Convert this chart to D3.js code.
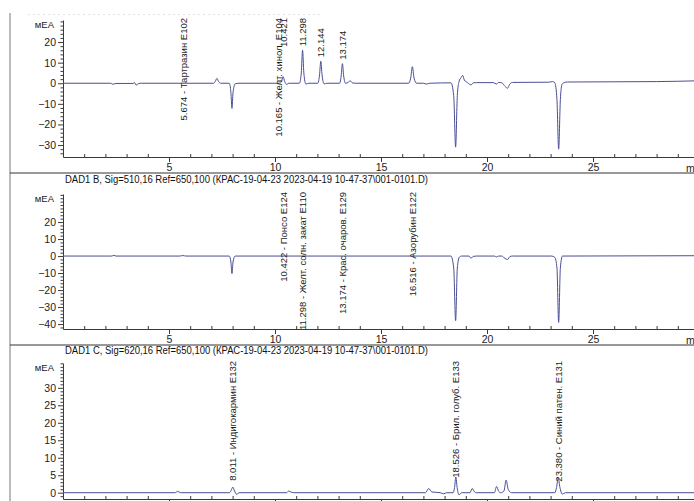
<!DOCTYPE html>
<html>
<head>
<meta charset="utf-8">
<script src="https://cdn.jsdelivr.net/npm/d3@7"></script>
<style>
  html, body { margin: 0; padding: 0; background: #fff; }
  svg { display: block; }
</style>
</head>
<body>
<script>
// Chromatogram traces, [time in min, signal in mAU]
const sigA = [
  [0, 0], [2.25, 0], [2.35, -0.5], [2.5, -0.1], [3.3, -0.1], [3.38, 0.3], [3.45, -0.9], [3.55, -0.2], [3.7, 0],
  [7.1, 0], [7.18, 0.8], [7.26, 2.4], [7.34, 0.8], [7.45, 0],
  [7.84, 0], [7.92, -4.5], [7.97, -12.2], [8.02, -4.5], [8.12, -0.3], [8.3, 0],
  [10.2, 0], [10.3, 0.6], [10.38, 3.2], [10.46, 0.8], [10.55, -0.6], [10.65, 0],
  [11.15, 0], [11.24, 5], [11.3, 16], [11.36, 5], [11.46, -0.4], [11.6, 0],
  [12.02, 0], [12.1, 4], [12.16, 10.7], [12.22, 4], [12.32, -0.3], [12.45, 0],
  [13.05, 0], [13.12, 3.5], [13.18, 9.5], [13.24, 3.5], [13.33, 0], [13.45, 0.4], [13.55, 1.2], [13.65, 0.2], [13.8, 0],
  [16.3, 0], [16.4, 2.5], [16.48, 8], [16.56, 2.5], [16.68, 0], [17.0, 0], [17.15, -0.4], [17.3, 0],
  [18.3, 0.2], [18.43, -6], [18.52, -31], [18.6, -6], [18.68, 0.8], [18.78, 2.8], [18.85, 3.8], [18.93, 1.6], [19.08, 0.3],
  [19.25, -0.8], [19.35, 0.2], [19.5, 0.3],
  [20.3, 0.3], [20.45, -0.4], [20.55, 0.4], [20.7, 0.2], [20.85, -1.5], [20.97, -2.4], [21.07, -0.5], [21.2, 0.4],
  [22.9, 0.5], [23.1, 0.8], [23.2, 0.2], [23.3, -8], [23.38, -32], [23.46, -8], [23.54, -0.5], [23.64, 0.3], [23.8, 0.6],
  [26, 0.7], [28, 0.8], [30, 1.2]
];
const sigB = [
  [0, 0], [2.3, 0], [2.4, 0.4], [2.5, 0], [5.5, 0], [5.65, 0.3], [5.8, 0],
  [7.84, 0], [7.92, -3.5], [7.97, -10.3], [8.02, -3.5], [8.12, 0],
  [18.3, 0], [18.43, -7], [18.52, -38], [18.6, -7], [18.7, -0.6], [18.8, 0],
  [19.15, 0], [19.25, -1.3], [19.35, -0.2], [19.5, 0],
  [20.35, 0], [20.45, -0.5], [20.55, 0], [20.7, 0], [20.85, -1.4], [20.97, -2], [21.08, -0.3], [21.2, 0],
  [23.05, 0], [23.2, -0.8], [23.3, -7], [23.38, -39], [23.46, -7], [23.56, 0], [30, 0.2]
];
const sigC = [
  [0, 0], [5.3, 0], [5.4, 0.4], [5.55, 0],
  [7.85, 0], [7.93, 0.6], [8.01, 1.6], [8.09, 0.5], [8.2, -0.5], [8.3, 0],
  [10.55, 0], [10.65, 0.5], [10.75, 0.2], [10.9, 0],
  [17.1, 0], [17.25, 1.2], [17.4, 0.2], [17.8, 0], [17.95, -0.3], [18.1, 0],
  [18.4, 0], [18.47, 1.5], [18.53, 4.5], [18.59, 1.5], [18.68, -0.6], [18.8, 0],
  [19.2, 0], [19.3, 1.2], [19.4, 0.3], [19.5, 0],
  [20.35, 0], [20.45, 1.8], [20.55, 0.4], [20.65, 0], [20.8, 0.5], [20.9, 3.6], [21.0, 1], [21.15, 0],
  [23.2, 0], [23.28, 1.5], [23.36, 4.2], [23.44, 1.5], [23.55, -0.4], [23.7, 0], [30, 0]
];

// Peak annotations: retention time and printed text
const labelsA = [
  { t: 5.674, text: "5.674 - Тартразин E102", named: true },
  { t: 10.165, text: "10.165 - Желт. хинол. E104", named: true },
  { t: 10.421, text: "10.421" },
  { t: 11.298, text: "11.298" },
  { t: 12.144, text: "12.144" },
  { t: 13.174, text: "13.174" }
];
const labelsB = [
  { t: 10.422, text: "10.422 - Понсо E124", named: true },
  { t: 11.298, text: "11.298 - Желт. солн. закат E110", named: true },
  { t: 13.174, text: "13.174 - Крас. очаров. E129", named: true },
  { t: 16.516, text: "16.516 - Азорубин E122", named: true }
];
const labelsC = [
  { t: 8.011, text: "8.011 - Индигокармин E132", named: true },
  { t: 18.526, text: "18.526 - Брил. голуб. E133", named: true },
  { t: 23.380, text: "23.380 - Синий патен. E131", named: true }
];

// Axis ticks
const xTicks = [5, 10, 15, 20, 25];
const yTicksA = [-30, -20, -10, 0, 10, 20];
const yTicksB = [-40, -30, -20, -10, 0, 10, 20];
const yTicksC = [0, 5, 10, 15, 20, 25, 30];

const titleB = "DAD1 B, Sig=510,16 Ref=650,100 (КРАС-19-04-23 2023-04-19 10-47-37\\001-0101.D)";
const titleC = "DAD1 C, Sig=620,16 Ref=650,100 (КРАС-19-04-23 2023-04-19 10-47-37\\001-0101.D)";
const unitLabel = "мЕА";
const timeUnit = "min";

// ---- layout ----
const W = 694, H = 501;
const FONT = "'Liberation Sans', Arial, sans-serif";
const TRACE = "#4a4e94";
const AXIS = "#3a3a3a";
const pinTop = new Set(["10.421"]);

const panels = [
  { id: "A", sig: sigA, labels: labelsA, top: 20, bottom: 157, domain: [-35.8, 30.7], major: yTicksA, minorStep: 2, title: null, titleY: 0, showX: true },
  { id: "B", sig: sigB, labels: labelsB, top: 194, bottom: 329, domain: [-42.9, 36.5], major: yTicksB, minorStep: 2, title: titleB, titleY: 183, showX: true },
  { id: "C", sig: sigC, labels: labelsC, top: 363, bottom: 499, domain: [-1.8, 37.1], major: yTicksC, minorStep: 1, title: titleC, titleY: 354, showX: false }
];

const svg = d3.select("body").append("svg").attr("width", W).attr("height", H);
svg.append("rect").attr("width", W).attr("height", H).attr("fill", "#fff");
const defs = svg.append("defs");

const x = d3.scaleLinear().domain([0, 30]).range([63, 699]);

// frame: left rule and panel separators
svg.append("line").attr("x1", 10).attr("x2", 10).attr("y1", 13).attr("y2", H)
  .attr("stroke", "#777").attr("stroke-width", 1);
[173, 345].forEach(yy => svg.append("line").attr("x1", 10).attr("x2", W).attr("y1", yy).attr("y2", yy)
  .attr("stroke", "#333").attr("stroke-width", 1));
svg.append("line").attr("x1", 28).attr("x2", 323).attr("y1", 14.5).attr("y2", 14.5)
  .attr("stroke", "#e2e2e2").attr("stroke-dasharray", "2,3");

panels.forEach(p => {
  const y = d3.scaleLinear().domain(p.domain).range([p.bottom, p.top]);
  const g = svg.append("g");
  const x0 = x(0);

  // y axis: minor then major ticks
  const minor = d3.range(Math.ceil(p.domain[0]), Math.floor(p.domain[1]) + 1)
    .filter(v => v % p.minorStep === 0 && !p.major.includes(v));
  g.append("g").attr("transform", `translate(${x0},0)`)
    .call(d3.axisLeft(y).tickValues(minor).tickSize(2.5).tickFormat(""))
    .call(a => a.select(".domain").remove())
    .attr("color", AXIS);
  g.append("g").attr("transform", `translate(${x0},0)`)
    .call(d3.axisLeft(y).tickValues(p.major).tickSize(5).tickSizeOuter(0).tickPadding(2).tickFormat(d3.format("d")))
    .attr("color", AXIS).attr("font-family", FONT).attr("font-size", 10.5)
    .call(a => a.selectAll("text").attr("fill", "#222"));

  g.append("text").attr("x", 54).attr("y", p.top + 8).attr("text-anchor", "end")
    .attr("font-family", FONT).attr("font-size", 9.5).attr("fill", "#222").text(unitLabel);

  // x axis (the lowest panel's labels fall below the page)
  const xMinor = d3.range(1, 30).filter(v => v % 5 !== 0);
  g.append("g").attr("transform", `translate(0,${p.bottom})`)
    .call(d3.axisTop(x).tickValues(xMinor).tickSize(3).tickFormat(""))
    .call(a => a.select(".domain").remove())
    .attr("color", AXIS);
  const xAxis = d3.axisBottom(x).tickValues(xTicks).tickSize(5).tickSizeOuter(0).tickPadding(2);
  if (!p.showX) xAxis.tickFormat("");
  const xa = g.append("g").attr("transform", `translate(0,${p.bottom})`)
    .call(xAxis)
    .attr("color", AXIS).attr("font-family", FONT).attr("font-size", 10.5);
  xa.selectAll("text").attr("fill", "#222");
  if (p.showX) {
    g.append("text").attr("x", 686).attr("y", p.bottom + 14.5)
      .attr("font-family", FONT).attr("font-size", 10.5).attr("fill", "#222").text(timeUnit);
  }

  // signal title
  if (p.title) {
    g.append("text").attr("x", 65).attr("y", p.titleY)
      .attr("font-family", FONT).attr("font-size", 10).attr("fill", "#111")
      .attr("textLength", 363).attr("lengthAdjust", "spacingAndGlyphs")
      .text(p.title);
  }

  // plot-area clip
  const cid = "clip" + p.id;
  defs.append("clipPath").attr("id", cid).append("rect")
    .attr("x", x0).attr("y", p.top - 8).attr("width", W - x0).attr("height", p.bottom - p.top + 8);

  // trace
  const line = d3.line().x(d => x(d[0])).y(d => y(d[1])).curve(d3.curveMonotoneX);
  g.append("path").datum(p.sig).attr("clip-path", `url(#${cid})`)
    .attr("fill", "none").attr("stroke", TRACE).attr("stroke-width", 1).attr("stroke-linejoin", "round")
    .attr("d", line);

  // peak labels, printed vertically
  const lg = g.append("g").attr("clip-path", `url(#${cid})`);
  p.labels.forEach(l => {
    const xp = x(l.t);
    const t = lg.append("text")
      .attr("font-family", FONT).attr("font-size", 9.5).attr("fill", "#1a1a1a")
      .attr("dy", "0.35em").text(l.text);
    const len = t.node().getComputedTextLength();
    const near = p.sig.filter(d => Math.abs(d[0] - l.t) <= 0.12);
    const apex = near.length ? d3.max(near, d => d[1]) : 0;
    const startY = y(apex) - 4;
    if (l.named || pinTop.has(l.text) || startY - len < p.top - 2) {
      t.attr("text-anchor", "end").attr("transform", `translate(${xp},${p.top - 2}) rotate(-90)`);
    } else {
      t.attr("text-anchor", "start").attr("transform", `translate(${xp},${startY}) rotate(-90)`);
    }
  });
});
</script>
</body>
</html>
